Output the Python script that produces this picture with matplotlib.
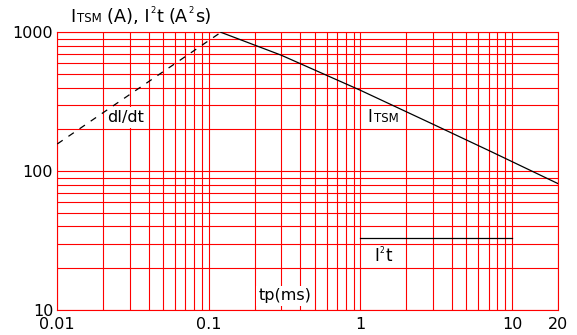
import matplotlib
matplotlib.use('Agg')
import matplotlib.pyplot as plt
from matplotlib.ticker import LogLocator, NullFormatter, FixedLocator, FixedFormatter
import matplotlib.transforms as mtransforms

# ---- data ----
itsm_t = [0.12, 0.3, 1.0, 3.0, 7.3, 20.0]
itsm_a = [1000, 684, 382, 218, 138, 81.5]
didt_t = [0.01, 0.12]
didt_a = [157, 1000]
i2t_t = [1.0, 10.0]
i2t_v = [33, 33]
x_ticks = [0.01, 0.1, 1, 10, 20]
x_tick_labels = ['0.01', '0.1', '1', '10', '20']
y_ticks = [10, 100, 1000]
y_tick_labels = ['10', '100', '1000']

plt.rcParams['font.family'] = ['DejaVu Sans']
plt.rcParams['lines.scale_dashes'] = False

fig = plt.figure(figsize=(5.77, 3.35), dpi=100)
ax = fig.add_axes([0.0993, 0.0746, 0.8673, 0.829])
ax.set_xscale('log')
ax.set_yscale('log')
ax.set_xlim(0.01, 20)
ax.set_ylim(10, 1000)

ax.xaxis.set_major_locator(FixedLocator(x_ticks))
ax.xaxis.set_major_formatter(FixedFormatter(x_tick_labels))
ax.yaxis.set_major_locator(FixedLocator(y_ticks))
ax.yaxis.set_major_formatter(FixedFormatter(y_tick_labels))
ax.xaxis.set_minor_locator(LogLocator(base=10, subs=range(2, 10), numticks=30))
ax.yaxis.set_minor_locator(LogLocator(base=10, subs=range(2, 10), numticks=30))
ax.xaxis.set_minor_formatter(NullFormatter())
ax.yaxis.set_minor_formatter(NullFormatter())

ax.grid(True, which='both', color='#ff0000', lw=0.8)
for sp in ax.spines.values():
    sp.set_color('#ff0000')
    sp.set_linewidth(0.8)
ax.tick_params(which='both', length=0, labelsize=11.5, colors='black')
ax.tick_params(axis='x', pad=5)
ax.tick_params(axis='y', pad=3)

ax.plot(itsm_t, itsm_a, color='black', lw=0.9, zorder=5)
ax.plot(didt_t, didt_a, color='black', lw=0.9, dashes=(4.7, 5.0), zorder=5)
ax.plot(i2t_t, i2t_v, color='black', lw=0.9, zorder=5)


def rich_text(x, y, pieces, transform, zorder=4):
    renderer = fig.canvas.get_renderer()
    offset = 0.0
    for s, size, rise, pre in pieces:
        offset += pre
        tr = mtransforms.offset_copy(transform, fig=fig, x=offset, y=rise, units='points')
        t = fig.text(x, y, s, fontsize=size, transform=tr, ha='left',
                     va='baseline', zorder=zorder)
        bb = t.get_window_extent(renderer)
        offset += bb.width * 72.0 / fig.dpi


# title
sp = 0.318 * 12.8
rich_text(0.1213, 0.935, [
    ("I", 12.8, 0, 0),
    ("TSM", 8.5, 0, 1.0),
    ("(A), I", 12.8, 0, sp),
    ("2", 6.0, 6.0, 0.5),
    ("t", 12.8, 0, 0.5),
    ("(A", 12.8, 0, sp),
    ("2", 6.0, 6.0, 0.5),
    ("s)", 12.8, 0, 1.0),
], fig.transFigure)

# labels inside
ax.text(0.1, 0.677, "dI/dt", transform=ax.transAxes, fontsize=11.5,
        ha='left', va='baseline', zorder=4,
        bbox=dict(facecolor='white', edgecolor='none', pad=1.8))
ax.text(0.402, 0.035, "tp(ms)", transform=ax.transAxes, fontsize=11.5,
        ha='left', va='baseline', zorder=4,
        bbox=dict(facecolor='white', edgecolor='none', pad=2.0))

rich_text(0.6206, 0.677, [
    ("I", 12.0, 0, 0),
    ("TSM", 8.5, 0, 1.0),
], ax.transAxes)

rich_text(0.633, 0.1765, [
    ("I", 12.0, 0, 0),
    ("2", 5.5, 5.8, 0.6),
    ("t", 12.0, 0, 0.5),
], ax.transAxes)

fig.savefig('out.png', dpi=100)
